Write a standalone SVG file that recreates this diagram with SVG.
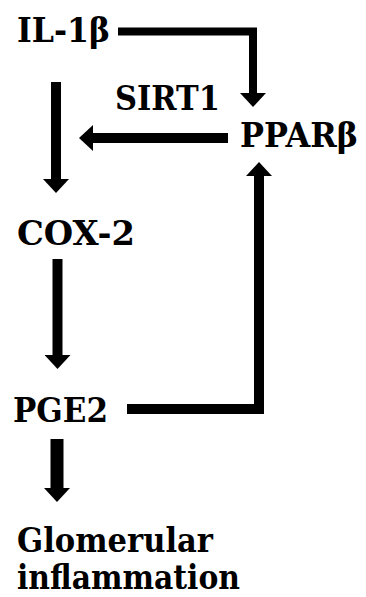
<svg xmlns="http://www.w3.org/2000/svg" width="366" height="597" viewBox="0 0 366 597">
<style>
.t{font-family:'DejaVu Serif',serif;font-weight:bold;font-size:34px;fill:#000}
.c{fill:none;stroke:#000;stroke-width:10;stroke-linejoin:miter;marker-end:url(#ah)}
</style>
<defs>
<marker id="ah" markerUnits="userSpaceOnUse" markerWidth="14" markerHeight="26" viewBox="0 0 14 26" refX="0" refY="13" orient="auto">
<path d="M0,0 L14,13 L0,26 z" fill="#000"/>
</marker>
</defs>
<rect width="366" height="597" fill="#fff"/>
<g id="connectors">
<path class="c" d="M118,31.5 H253 V93" style="stroke-width:8"/>
<path class="c" d="M228,138 H93"/>
<path class="c" d="M56,82 V179"/>
<path class="c" d="M57.5,259 V355"/>
<path class="c" d="M127,409 H259 V176"/>
<path class="c" d="M57,439 V488" style="stroke-width:13"/>
</g>
<g id="il1b"><text class="t" x="17" y="42" textLength="93" lengthAdjust="spacingAndGlyphs">IL-1β</text></g>
<g id="sirt1"><text class="t" x="115" y="110" textLength="105" lengthAdjust="spacingAndGlyphs">SIRT1</text></g>
<g id="ppar"><text class="t" x="240" y="147" textLength="118" lengthAdjust="spacingAndGlyphs">PPARβ</text></g>
<g id="cox2"><text class="t" x="17" y="245" textLength="118" lengthAdjust="spacingAndGlyphs">COX-2</text></g>
<g id="pge2"><text class="t" x="13" y="422" textLength="95" lengthAdjust="spacingAndGlyphs">PGE2</text></g>
<g id="glom"><text class="t" x="17" y="552" textLength="196" lengthAdjust="spacingAndGlyphs">Glomerular</text><text class="t" x="17" y="589" textLength="223" lengthAdjust="spacingAndGlyphs">inflammation</text></g>
</svg>
